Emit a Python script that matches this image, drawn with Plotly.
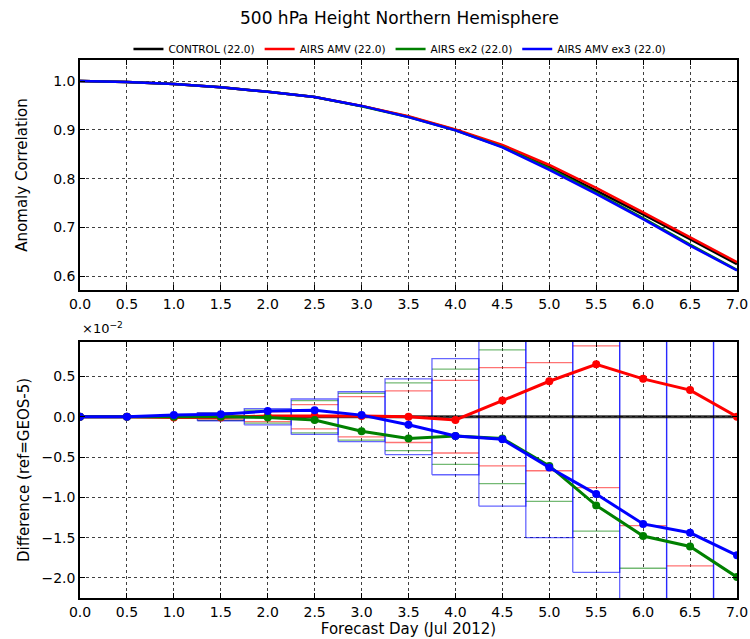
import plotly.graph_objects as go

# ---------------- data ----------------
days = [0.0, 0.5, 1.0, 1.5, 2.0, 2.5, 3.0, 3.5, 4.0, 4.5, 5.0, 5.5, 6.0, 6.5, 7.0]

series_names = ["CONTROL (22.0)", "AIRS AMV (22.0)", "AIRS ex2 (22.0)", "AIRS AMV ex3 (22.0)"]
series_colors = ["#000000", "#ff0000", "#008000", "#0000ff"]

# anomaly correlation (top panel)
ac_control = [1.000, 0.998, 0.994, 0.987, 0.978, 0.967, 0.949, 0.927, 0.900, 0.867, 0.824, 0.776, 0.727, 0.676, 0.625]
ac_amv     = [1.000, 0.998, 0.994, 0.987, 0.978, 0.967, 0.949, 0.928, 0.901, 0.869, 0.828, 0.781, 0.731, 0.680, 0.629]
ac_ex2     = [1.000, 0.998, 0.994, 0.987, 0.978, 0.967, 0.948, 0.926, 0.899, 0.865, 0.821, 0.771, 0.719, 0.665, 0.613]
ac_ex3     = [1.000, 0.998, 0.994, 0.987, 0.978, 0.967, 0.949, 0.926, 0.899, 0.864, 0.818, 0.769, 0.717, 0.663, 0.612]

# difference vs control, in units of 1e-2 (bottom panel)
diff_control = [0.0] * 15
diff_amv = [0.0, 0.0, -0.01, -0.01, 0.01, 0.01, 0.01, 0.0, -0.04, 0.20, 0.44, 0.65, 0.47, 0.33, 0.0]
diff_ex2 = [0.0, 0.0, 0.0, 0.0, -0.01, -0.04, -0.18, -0.27, -0.24, -0.27, -0.61, -1.10, -1.48, -1.61, -1.99]
diff_ex3 = [0.0, 0.0, 0.02, 0.03, 0.07, 0.08, 0.02, -0.10, -0.24, -0.28, -0.63, -0.96, -1.33, -1.44, -1.72]

# confidence half-widths (units of 1e-2)
ci_amv = [0.0, 0.0, 0.0, 0.04, 0.06, 0.15, 0.25, 0.32, 0.45, 0.61, 0.67, 0.88, 1.35, 1.85, 2.30]
ci_ex2 = [0.0, 0.0, 0.0, 0.045, 0.08, 0.20, 0.29, 0.42, 0.59, 0.83, 1.05, 1.42, 1.88, 2.30, 2.70]
ci_ex3 = [0.0, 0.0, 0.0, 0.05, 0.10, 0.22, 0.31, 0.47, 0.72, 1.11, 1.50, 1.93, 2.40, 2.85, 3.30]
box_halfwidth_days = 0.25

FONT = "DejaVu Sans"

fig = go.Figure()

# ---------------- top panel ----------------
for name, vals, color in zip(series_names, [ac_control, ac_amv, ac_ex2, ac_ex3], series_colors):
    fig.add_trace(go.Scatter(x=days, y=vals, mode="lines", name=name,
                             line=dict(color=color, width=2.5),
                             xaxis="x", yaxis="y"))


# ---------------- bottom panel: confidence boxes ----------------
def hlines(ci):
    xs, ys = [], []
    for d, c in zip(days, ci):
        if c <= 0:
            continue
        for s in (1, -1):
            xs += [d - box_halfwidth_days, d + box_halfwidth_days, None]
            ys += [s * c, s * c, None]
    return xs, ys


def rects(ci):
    xs, ys = [], []
    for d, c in zip(days, ci):
        if c <= 0:
            continue
        x0, x1 = d - box_halfwidth_days, d + box_halfwidth_days
        xs += [x0, x1, x1, x0, x0, None]
        ys += [-c, -c, c, c, -c, None]
    return xs, ys


for ci, color in [(ci_amv, "rgba(255,0,0,0.55)"), (ci_ex2, "rgba(0,128,0,0.55)")]:
    xs, ys = hlines(ci)
    fig.add_trace(go.Scatter(x=xs, y=ys, mode="lines", line=dict(color=color, width=1.3),
                             showlegend=False, hoverinfo="skip", xaxis="x2", yaxis="y2"))
xs, ys = rects(ci_ex3)
fig.add_trace(go.Scatter(x=xs, y=ys, mode="lines", line=dict(color="rgba(0,0,255,0.6)", width=1.3),
                         showlegend=False, hoverinfo="skip", xaxis="x2", yaxis="y2"))

# ---------------- bottom panel: difference lines ----------------
for name, vals, color in zip(series_names, [diff_control, diff_amv, diff_ex2, diff_ex3], series_colors):
    if color == "#000000":
        fig.add_trace(go.Scatter(x=days, y=vals, mode="lines", name=name,
                                 line=dict(color="rgba(0,0,0,0.8)", width=3),
                                 showlegend=False, xaxis="x2", yaxis="y2"))
    else:
        fig.add_trace(go.Scatter(x=days, y=vals, mode="lines+markers", name=name,
                                 line=dict(color=color, width=3),
                                 marker=dict(color=color, size=8),
                                 showlegend=False, xaxis="x2", yaxis="y2"))

axis_common = dict(
    showline=True, linecolor="black", linewidth=1.5, mirror="ticks",
    ticks="inside", ticklen=5, tickcolor="black", tickwidth=1,
    showgrid=True, gridcolor="rgba(0,0,0,0.75)", gridwidth=0.8, griddash="dot",
    zeroline=False, tickfont=dict(family=FONT, size=14, color="black"),
    automargin=False,
)

fig.update_layout(
    template="none",
    width=750, height=639,
    margin=dict(l=80, r=13, t=0, b=0),
    paper_bgcolor="white", plot_bgcolor="white",
    font=dict(family=FONT, color="black"),
    showlegend=True,
    legend=dict(orientation="h", x=0.487, xanchor="center", y=1 - 49 / 639, yanchor="middle",
                font=dict(family=FONT, size=10.5, color="black"),
                bgcolor="rgba(0,0,0,0)", itemwidth=30, tracegroupgap=0),
    xaxis=dict(axis_common, domain=[0, 1], anchor="y", range=[0, 7], tick0=0, dtick=0.5, tickformat=".1f"),
    yaxis=dict(axis_common, domain=[1 - 290 / 639, 1 - 60 / 639], anchor="x",
               range=[0.572, 1.043], tick0=0.6, dtick=0.1, tickformat=".1f",
               title=dict(text="Anomaly Correlation", font=dict(family=FONT, size=15), standoff=22)),
    xaxis2=dict(axis_common, domain=[0, 1], anchor="y2", range=[0, 7], tick0=0, dtick=0.5, tickformat=".1f",
                title=dict(text="Forecast Day (Jul 2012)", font=dict(family=FONT, size=15), standoff=4)),
    yaxis2=dict(axis_common, domain=[1 - 598 / 639, 1 - 342 / 639], anchor="x2",
                range=[-2.249, 0.927], tick0=0, dtick=0.5, tickformat=".1f",
                title=dict(text="Difference (ref=GEOS-5)", font=dict(family=FONT, size=15), standoff=8)),
    annotations=[
        dict(text="500 hPa Height Northern Hemisphere", xref="paper", yref="paper",
             x=0.487, y=1 - 18 / 639, xanchor="center", yanchor="middle", showarrow=False,
             font=dict(family=FONT, size=17, color="black")),
        dict(text="×10<sup>−2</sup>", xref="paper", yref="paper",
             x=0.0, y=1 - 328 / 639, xanchor="left", yanchor="middle", showarrow=False,
             font=dict(family=FONT, size=13, color="black")),
    ],
)

fig.write_html("out.html")
